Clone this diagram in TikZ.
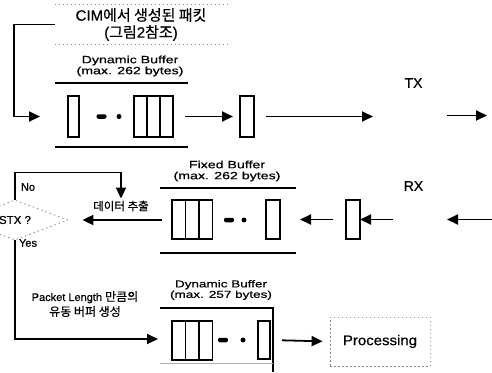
\documentclass[tikz,border=0pt]{standalone}
\usepackage{fontspec}
\setmainfont{Liberation Sans}[FakeBold=0.6]
\newfontfamily\lab{Liberation Sans}[FakeStretch=1.35,FakeBold=0.6]
\newfontfamily\kr{Noto Sans CJK KR}[FakeBold=0.6]
\usetikzlibrary{arrows.meta,shapes.geometric}
\begin{document}
\begin{tikzpicture}[x=1pt,y=-1pt,
  cell/.style={draw, line width=1.6pt, minimum width=13pt, minimum height=40pt, inner sep=0pt, outer sep=0pt},
  bar/.style={fill, rounded corners=2pt, minimum width=10pt, minimum height=4.5pt, inner sep=0pt},
  dotm/.style={fill, circle, minimum size=5pt, inner sep=0pt},
  arr/.style={line width=1.8pt, -{Triangle[length=11pt,width=10pt]}},
  rule/.style={line width=1.5pt},
  faintline/.style={draw=black!45, line width=0.8pt, dash pattern=on 1.5pt off 2.5pt},
  lbl/.style={font=\lab\fontsize{10.5}{11}\selectfont, align=center, inner sep=0pt},
  lblsmall/.style={font=\lab\fontsize{10}{10.5}\selectfont, align=center, inner sep=0pt},
  txt/.style={font=\fontsize{11}{12}\selectfont, inner sep=0pt},
  big/.style={font=\fontsize{14}{15}\selectfont, inner sep=0pt}]
\useasboundingbox (0,0) rectangle (492,372);
\clip (0,0) rectangle (492,372);

% ---------- title box ----------
\node[minimum width=173pt, minimum height=39pt, inner sep=0pt] (cim) at (141.5,24.5) {};
\draw[faintline] (cim.north west) -- (cim.north east);
\draw[faintline] (cim.south west) -- (cim.south east);
\node[font=\fontsize{15}{17}\selectfont, align=center, inner sep=0pt] (cimtxt) at (141,24.5)
  {CIM{\kr 에서 생성된 패킷}\\({\kr 그림}2{\kr 참조})};

% ---------- top row (TX) ----------
\node[lbl] (dyn1) at (130,66) {Dynamic Buffer\\(max. 262 bytes)};
\draw[rule] (55,83) -- (188,83);
\draw[rule] (55,147) -- (188,147);
\node[cell, minimum width=11pt, minimum height=41pt] (c1) at (73.5,116.5) {};
\node[bar] (d1) at (101.5,116.5) {};
\node[dotm] (p1) at (119,116.5) {};
\node[cell, minimum height=41pt] (g1a) at (140.5,116.5) {};
\node[cell, minimum height=41pt] (g1b) at (153.5,116.5) {};
\node[cell, minimum height=41pt] (g1c) at (166.5,116.5) {};
\node[cell, minimum width=14pt, minimum height=41pt] (c2) at (247,116.5) {};

\draw[arr] (cim.west) -- ++(-41,0) |- ([xshift=-28pt]c1.west);
\draw[arr, shorten <=12pt, shorten >=7pt] (g1c.east) -- (c2.west);
\coordinate (txin) at (373,116.5);
\draw[arr, shorten <=12pt] (c2.east) -- (txin);
\node[big] (tx) at (413.5,83) {TX};
\coordinate (txa) at (447,115.5);
\coordinate (txb) at (487,115.5);
\draw[arr] (txa) -- (txb);

% ---------- middle row (RX) ----------
\node[lbl] (fix) at (227,171) {Fixed Buffer\\(max. 262 bytes)};
\draw[rule] (160,188) -- (296,188);
\draw[rule] (160,253) -- (296,253);
\node[cell, minimum width=13.5pt, minimum height=39pt] (fa) at (178.75,219.5) {};
\node[cell, minimum width=13.5pt, minimum height=39pt] (fb) at (192.25,219.5) {};
\node[cell, minimum width=13.5pt, minimum height=39pt] (fc) at (205.75,219.5) {};
\node[bar] (d2) at (229,220) {};
\node[dotm] (p2) at (244,220) {};
\node[cell, minimum width=14pt, minimum height=39pt] (f2) at (273,219.5) {};
\node[cell, minimum width=14pt, minimum height=39pt] (r1) at (353,219.5) {};
\node[big] (rx) at (413.5,186) {RX};

\draw[arr, shorten <=13pt, shorten >=20pt] (r1.west) -- (f2.east);
\coordinate (rxa) at (393,219.5);
\draw[arr] (rxa) -- (r1.east);
\coordinate (rxin0) at (492,219.5);
\coordinate (rxin1) at (447,219.5);
\draw[arr] (rxin0) -- (rxin1);

% ---------- decision ----------
\node[diamond, draw=black!45, line width=0.8pt, dash pattern=on 1.5pt off 3pt,
      minimum width=106pt, minimum height=40pt, inner sep=0pt,
      font=\fontsize{11.5}{12}\selectfont] (stx) at (15,220) {STX ?};
\node[font=\kr\fontsize{11.5}{12}\selectfont, inner sep=0pt] (ext) at (121,206) {데이터 추출};
\coordinate (fbl) at (162,220);
\draw[arr, shorten >=14pt] (fbl) -- (stx.east);
\draw[arr, shorten >=2pt] (stx.north) -- ++(0,-27) -| (ext.north);
\node[txt] (no) at (28,187) {No};
\node[txt] (yes) at (28,243) {Yes};

\node[font=\fontsize{11}{15}\selectfont, align=center, inner sep=0pt] (plen) at (85,304)
  {Packet Length {\kr\fontsize{12}{15}\selectfont 만큼의}\\{\kr\fontsize{12}{15}\selectfont 유동 버퍼 생성}};

% ---------- bottom row ----------
\node[lblsmall] (dyn2) at (221,290) {Dynamic Buffer\\(max. 257 bytes)};
\draw[rule] (160,308) -- (273,308) -- (273,372);
\draw[draw=black!30, line width=0.8pt] (160,363) -- (273,363);
\node[cell, minimum width=13.5pt, minimum height=39pt] (ba) at (178.75,340.5) {};
\node[cell, minimum width=13.5pt, minimum height=39pt] (bb) at (192.25,340.5) {};
\node[cell, minimum width=13.5pt, minimum height=39pt] (bc) at (205.75,340.5) {};
\node[bar] (d3) at (223,340) {};
\node[dotm] (p3) at (243,340) {};
\node[cell, minimum width=12pt, minimum height=38pt] (b2) at (264,340) {};

\draw[arr] (stx.south) |- ([xshift=-14pt,yshift=1.5pt]ba.west);

\node[draw=black!45, line width=0.8pt, dash pattern=on 1.5pt off 2.5pt,
      minimum width=100pt, minimum height=49pt, inner sep=0pt,
      font=\lab\fontsize{14}{15}\selectfont] (proc) at (380,341.5) {\addfontfeature{FakeStretch=1.07}Processing};
\draw[arr, shorten <=12pt, shorten >=7pt] (b2.east) -- (proc.west);
\end{tikzpicture}
\end{document}
